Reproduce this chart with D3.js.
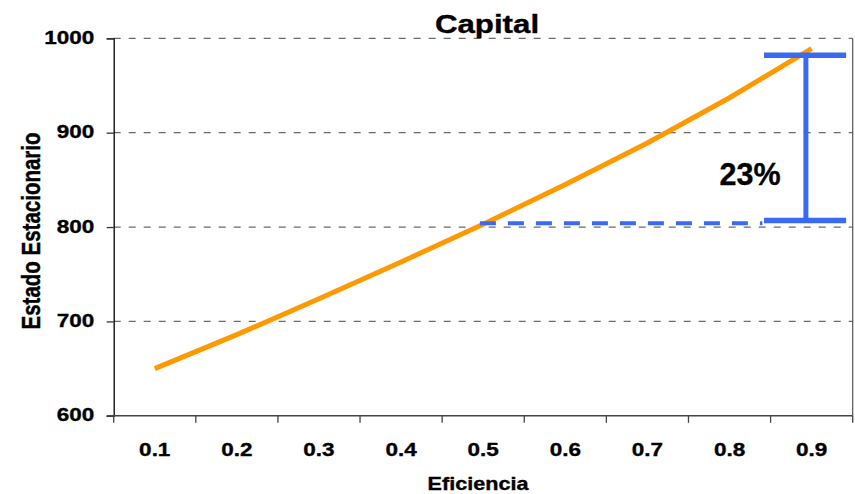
<!DOCTYPE html>
<html>
<head>
<meta charset="utf-8">
<script src="https://cdn.jsdelivr.net/npm/d3@7"></script>
<style>
  html, body { margin: 0; padding: 0; background: #fff; }
  svg { display: block; }
  text { font-family: "Liberation Sans", Arial, sans-serif; font-weight: bold; fill: #000; stroke: #000; stroke-width: 0.35px; }
</style>
</head>
<body>
<svg id="chart" width="855" height="494"></svg>
<script>
// ---- data ----
const categories = ["0.1", "0.2", "0.3", "0.4", "0.5", "0.6", "0.7", "0.8", "0.9"];
const capital = [650, 686, 724, 763, 803, 845, 889, 937, 989];
const yTicks = [600, 700, 800, 900, 1000];
const gridTicks = [700, 800, 900, 1000];
const refLevels = [804, 807, 982];   // dashed reference, bracket bottom, bracket top
const refLabel = ["23%"];
const titleText = "Capital";
const xTitle = "Eficiencia";
const yTitle = "Estado Estacionario";

(function () {
// ---- layout ----
const svg = d3.select("#chart");
const mLeft = 113.7, mRight = 852.7, mTop = 38.3, mBottom = 415.8;
const SX = 1.25; // horizontal text stretch of the reference

const x = d3.scaleBand().domain(categories).range([mLeft, mRight]).padding(0);
const y = d3.scaleLinear().domain([600, 1000]).range([mBottom, mTop]);
const cx = c => x(c) + x.bandwidth() / 2;
// fractional category index scale for annotation
const xi = d3.scaleLinear().domain([0, 8]).range([cx(categories[0]), cx(categories[8])]);

// gridlines
svg.append("g").selectAll("line").data(gridTicks).join("line")
  .attr("x1", mLeft).attr("x2", mRight)
  .attr("y1", d => y(d)).attr("y2", d => y(d))
  .attr("stroke", "#6a6a6a").attr("stroke-width", 1.3)
  .attr("stroke-dasharray", "7,8");

// right border
svg.append("line").attr("x1", mRight).attr("x2", mRight).attr("y1", mTop).attr("y2", mBottom)
  .attr("stroke", "#555").attr("stroke-width", 1.2);

// y axis
const yAxis = d3.axisLeft(y).tickValues(yTicks).tickSize(7).tickPadding(10).tickFormat(d3.format("d"));
const gy = svg.append("g").attr("transform", `translate(${mLeft},0)`).call(yAxis);
gy.select(".domain").attr("stroke", "#000").attr("stroke-width", 1.3);
gy.selectAll(".tick line").attr("stroke", "#333").attr("stroke-width", 1.3);
gy.selectAll(".tick text")
  .style("font-size", "18px").style("font-family", "Liberation Sans, Arial, sans-serif").style("font-weight", "bold")
  .attr("x", -19.5 / SX).attr("dy", "0.28em")
  .attr("transform", `scale(${SX},1)`);

// x axis (ticks at category boundaries)
const gx = svg.append("g").attr("transform", `translate(0,${mBottom})`);
gx.append("line").attr("x1", mLeft - 7).attr("x2", mRight).attr("y1", 0).attr("y2", 0)
  .attr("stroke", "#444").attr("stroke-width", 1.5);
const bounds = categories.map(c => x(c)).concat([x(categories[categories.length - 1]) + x.bandwidth()]);
gx.selectAll("line.tk").data(bounds).join("line").attr("class", "tk")
  .attr("x1", d => d).attr("x2", d => d).attr("y1", 0).attr("y2", 7)
  .attr("stroke", "#444").attr("stroke-width", 1.3);
gx.selectAll("g.lbl").data(categories).join("g").attr("class", "lbl")
  .attr("transform", d => `translate(${cx(d)},40) scale(${SX},1)`)
  .append("text").attr("text-anchor", "middle").style("font-size", "18px").text(d => d);

// line
svg.append("path").datum(capital)
  .attr("fill", "none").attr("stroke", "#ff9900").attr("stroke-width", 5)
  .attr("stroke-linejoin", "round")
  .attr("d", d3.line().x((d, i) => cx(categories[i])).y(d => y(d)));

// annotation
const blue = "#3a6af2";
svg.append("line")
  .attr("x1", xi(3.96)).attr("x2", xi(7.4))
  .attr("y1", y(refLevels[0])).attr("y2", y(refLevels[0]))
  .attr("stroke", blue).attr("stroke-width", 4).attr("stroke-dasharray", "16,12");
[refLevels[1], refLevels[2]].forEach(v => {
  svg.append("line").attr("x1", xi(7.42)).attr("x2", xi(8.42))
    .attr("y1", y(v)).attr("y2", y(v)).attr("stroke", blue).attr("stroke-width", 5.5);
});
svg.append("line").attr("x1", xi(7.93)).attr("x2", xi(7.93))
  .attr("y1", y(refLevels[2])).attr("y2", y(refLevels[1]))
  .attr("stroke", blue).attr("stroke-width", 5);
svg.append("text").attr("x", xi(7.25)).attr("y", 185).attr("text-anchor", "middle")
  .style("font-size", "30.5px").text(refLabel[0]);

// titles
svg.append("g").attr("transform", `translate(487,33) scale(${SX},1)`)
  .append("text").attr("text-anchor", "middle").style("font-size", "25px").text(titleText);
svg.append("g").attr("transform", `translate(478,490) scale(1.2,1)`)
  .append("text").attr("text-anchor", "middle").style("font-size", "18px").text(xTitle);
svg.append("g").attr("transform", `translate(39.5,231) scale(${SX},1) rotate(-90)`)
  .append("text").attr("text-anchor", "middle").style("font-size", "20.5px").text(yTitle);
})();
</script>
</body>
</html>
